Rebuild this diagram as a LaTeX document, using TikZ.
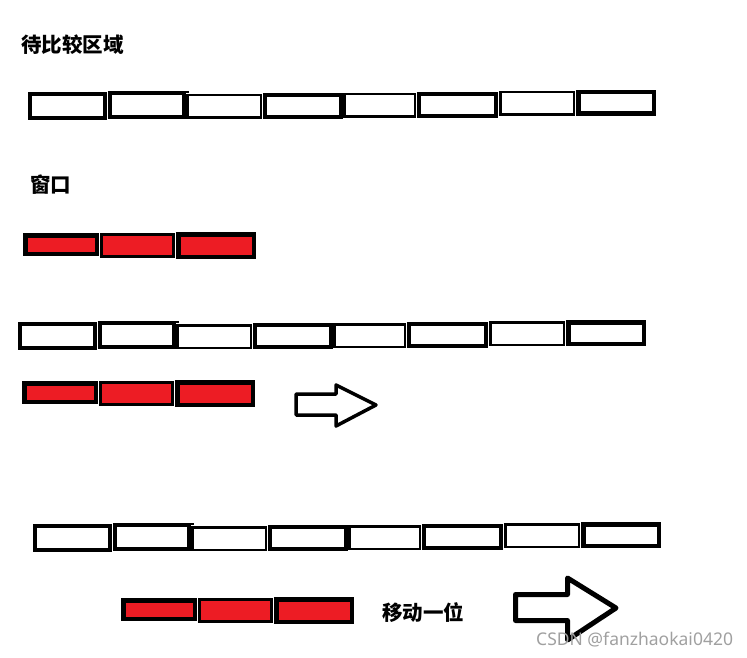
\documentclass[tikz,border=0pt]{standalone}
\usepackage{fontspec}
\newfontfamily\cjk{Noto Sans CJK SC}
\newfontfamily\wmfont{Noto Sans}
\definecolor{pred}{HTML}{ED1C24}
\definecolor{wmgray}{HTML}{A0A0A0}
\newcommand\wbox[5]{\draw[line width=#1pt] ({#2+#1/2},{#3+#1/2}) rectangle ({#4-#1/2},{#5-#1/2});}
\newcommand\rbox[5]{\draw[line width=#1pt,fill=pred] ({#2+#1/2},{#3+#1/2}) rectangle ({#4-#1/2},{#5-#1/2});}
\newcommand\cellrow{%
  \wbox{4}{28}{92}{107}{120}
  \wbox{4}{108}{91}{186}{119}
  \draw[line width=2pt] (186,92) -- (189,92);
  \wbox{2.5}{186}{94}{262}{119}
  \wbox{4}{263}{93}{343}{119}
  \wbox{2.5}{343}{93}{416}{118}
  \wbox{4}{417}{92}{498}{118}
  \wbox{2.5}{499}{91}{575}{116}
  \wbox{4.5}{576}{90}{656}{116}}
\newcommand\winrow{%
  \rbox{4.5}{23}{233}{99}{256}
  \rbox{3}{100}{233}{175}{258}
  \rbox{4.5}{176}{232}{256}{259}}
\tikzset{
  lbl/.style={font=\cjk\bfseries\fontsize{20.5}{20.5}\selectfont, anchor=west, inner sep=0pt},
  blockarrow/.style={draw=black, fill=white, line join=round}
}
\begin{document}
\begin{tikzpicture}[x=1pt,y=-1pt]
\useasboundingbox[fill=white] (0,0) rectangle (747,658);
% texts
\node[lbl] (t1) at (21,45) {待比较区域};
\node[lbl] (t2) at (30,185) {窗口};
\node[lbl] (t3) at (382,613) {移动一位};
% section 1
\begin{scope}\cellrow\end{scope}
\begin{scope}\winrow\end{scope}
% section 2
\begin{scope}[shift={(-10,230)}]\cellrow\end{scope}
\begin{scope}[shift={(-1,148)}]\winrow\end{scope}
\draw[blockarrow, line width=3.5pt] (296,394) -- (336,394) -- (336,385) -- (376,405)
  -- (336,426) -- (336,415) -- (296,415) -- cycle;
% section 3
\begin{scope}[shift={(5,432)}]\cellrow\end{scope}
\begin{scope}[shift={(98,365)}]\winrow\end{scope}
\draw[blockarrow, line width=5pt] (515.5,594.5) -- (567.5,594.5) -- (567.5,578) -- (616,608)
  -- (567.5,640) -- (567.5,620.5) -- (515.5,620.5) -- cycle;
% watermark
\node[font=\wmfont\fontsize{17.5}{17.5}\selectfont, text=wmgray, anchor=west, inner sep=0pt] (wm) at (536,640) {CSDN @fanzhaokai0420};
\end{tikzpicture}
\end{document}
